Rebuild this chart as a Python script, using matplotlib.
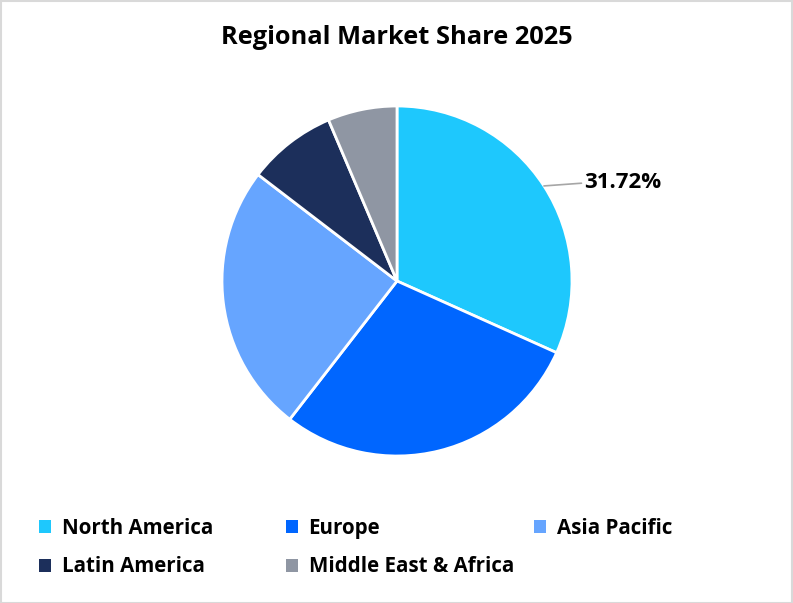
import matplotlib.pyplot as plt
from matplotlib.patches import Patch, Rectangle
import numpy as np

regions = ['North America', 'Europe', 'Asia Pacific', 'Latin America', 'Middle East & Africa']
shares = [31.72, 28.78, 24.9, 8.2, 6.4]
colors = ['#1ec8fd', '#0066ff', '#66a5ff', '#1c2f5b', '#8f96a3']
title = 'Regional Market Share 2025'

plt.rcParams['font.family'] = ['Open Sans', 'DejaVu Sans']
plt.rcParams['font.weight'] = 'bold'

W, H = 793, 603
fig = plt.figure(figsize=(W / 100, H / 100), dpi=100)

# pie centre (397, 281) px, radius ~175 px
cx, cy, r = 397, 281, 175
ax = fig.add_axes([(cx - r) / W, (H - cy - r) / H, 2 * r / W, 2 * r / H])
wedges, _ = ax.pie(shares, colors=colors, startangle=90, counterclock=False,
                   radius=1, wedgeprops=dict(edgecolor='white', linewidth=2))
ax.set_xlim(-1, 1)
ax.set_ylim(-1, 1)
ax.set_aspect('equal')
ax.axis('off')

# label only the largest slice
mid = np.deg2rad(90 - shares[0] / 100 * 360 / 2)
x0, y0 = np.cos(mid), np.sin(mid)
ax.annotate(f'{shares[0]:.2f}%', xy=(x0, y0), xytext=(1.07, 0.56),
            fontsize=16, fontweight='bold', va='center', ha='left',
            arrowprops=dict(arrowstyle='-', color='#a6a6a6', lw=1.2,
                            shrinkA=0, shrinkB=0, relpos=(0, 0.5)),
            annotation_clip=False)

fig.text(397 / W, 1 - 37 / H, title, ha='center', va='center',
         fontsize=18.3, fontweight='bold')

# legend, three columns with equal pitch
handles = [Patch(facecolor=c, edgecolor='none') for c in colors]
col_x = [39, 286, 534]
for j, x in enumerate(col_x):
    idx = [i for i in range(len(regions)) if i % 3 == j]
    fig.legend([handles[i] for i in idx], [regions[i] for i in idx],
               loc='upper left', bbox_to_anchor=(x / W, 1 - 518 / H),
               frameon=False, fontsize=14.8, handlelength=0.6, handleheight=0.6,
               handletextpad=0.5, labelspacing=0.85, borderpad=0, borderaxespad=0)

fig.patches.append(Rectangle((0.5 / W, 0.5 / H), 1 - 1.5 / W, 1 - 1.5 / H,
                             transform=fig.transFigure, fill=False,
                             edgecolor='#d9d9d9', linewidth=1.5))

fig.savefig('out.png', dpi=100)
